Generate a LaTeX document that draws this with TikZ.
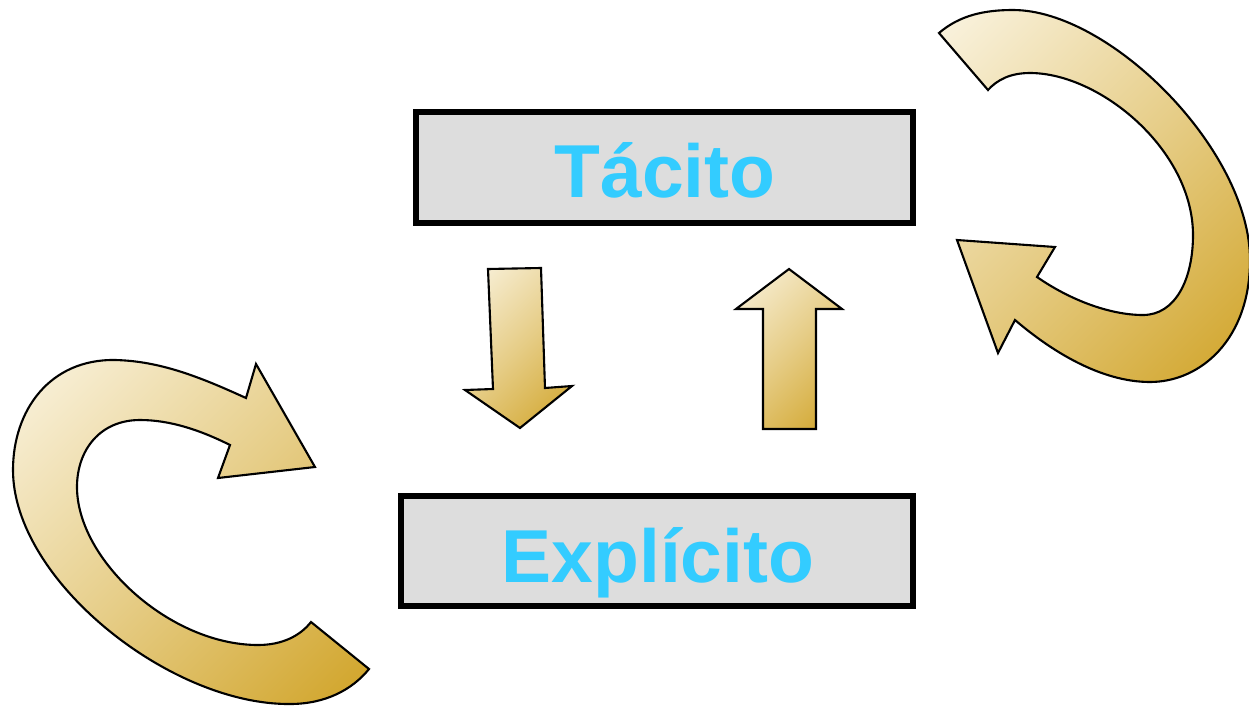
\documentclass[tikz,border=0pt]{standalone}
\usepackage{fontspec}
\setmainfont{Liberation Sans}
\definecolor{cream}{RGB}{254,251,242}
\definecolor{goldd}{RGB}{204,155,20}
\definecolor{goldm}{RGB}{230,205,135}
\definecolor{boxgray}{RGB}{221,221,221}
\definecolor{txtcyan}{RGB}{51,204,255}
\pgfdeclareverticalshading{goldgrad}{100bp}{color(0bp)=(goldd); color(8bp)=(goldd); color(50bp)=(goldm); color(92bp)=(cream); color(100bp)=(cream)}
\begin{document}
\begin{tikzpicture}[x=0.02cm,y=-0.02cm,
  blockarrow/.style={draw=black, line width=1.2pt, line join=miter,
     shading=goldgrad, shading angle=45},
  conceptbox/.style={draw=black, line width=3.97pt, fill=boxgray,
     rectangle, inner sep=0pt, outer sep=0pt},
  conceptlabel/.style={text=txtcyan, font=\fontsize{42.7}{50}\selectfont\bfseries,
     inner sep=0pt, anchor=base}]
\useasboundingbox (0,0) rectangle (1249,707);

% boxes
\node[conceptbox, minimum width=497*0.02cm, minimum height=111*0.02cm] (tacitobox) at (664.5,167.5) {};
\node[conceptbox, minimum width=512*0.02cm, minimum height=110*0.02cm] (explicitobox) at (657,551) {};
\node[conceptlabel] (tacito) at (665,197) {Tácito};
\node[conceptlabel] (explicito) at (658,582) {Explícito};

% straight block arrows
\draw[blockarrow] (488,269) -- (541,268) -- (545,388) -- (572,386) -- (520,428)
   -- (465,390) -- (493,389) -- cycle;
\draw[blockarrow] (789,269) -- (842,309) -- (816,309) -- (816,429) -- (763,429)
   -- (763,309) -- (736,309) -- cycle;

% left curved arrow
\draw[blockarrow] (246,398) -- (256,364) -- (315,467) -- (218,478) -- (230,445)
  .. controls (200,430) and (170,420) .. (140,420)
  .. controls (100,420) and (77,450) .. (77,487)
  .. controls (77,560) and (170,645) .. (258,645)
  .. controls (282,645) and (300,636) .. (311,622)
  -- (369,669)
  .. controls (352,690) and (325,704) .. (290,704)
  .. controls (170,705) and (13,580) .. (13,470)
  .. controls (13,410) and (50,359) .. (115,360)
  .. controls (160,361) and (200,377) .. (246,398)
  -- cycle;

% right curved arrow
\draw[blockarrow] (939,33)
  .. controls (960,15) and (985,10) .. (1013,10)
  .. controls (1110,10) and (1250,150) .. (1250,260)
  .. controls (1250,340) and (1200,382) .. (1150,382)
  .. controls (1100,382) and (1050,350) .. (1015,320)
  -- (998,353) -- (957,240) -- (1055,247) -- (1037,277)
  .. controls (1070,300) and (1110,315) .. (1143,315)
  .. controls (1175,315) and (1193,280) .. (1193,235)
  .. controls (1193,150) and (1100,73) .. (1030,73)
  .. controls (1010,73) and (997,80) .. (988,90)
  -- cycle;
\end{tikzpicture}
\end{document}
